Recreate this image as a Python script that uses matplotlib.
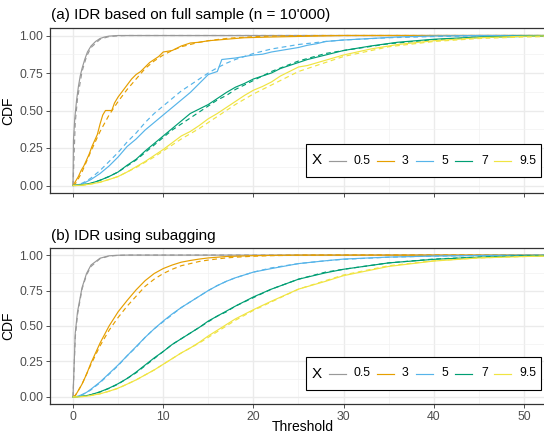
import matplotlib
matplotlib.use('Agg')
import matplotlib.pyplot as plt
from matplotlib.lines import Line2D
from matplotlib.patches import Rectangle

plt.rcParams['font.family'] = ['Liberation Sans', 'DejaVu Sans']

W, H = 544, 433

# ─── DATA ─────────────────────────────────────────────────────────────────────
X_LEVELS = ['0.5', '3', '5', '7', '9.5']
COLORS = ['#999999', '#E69F00', '#56B4E9', '#009E73', '#F0E442']

# true conditional CDFs (dashed), common threshold grid
T_TRUE = [0, 0.25, 0.5, 1, 1.5, 2, 3, 4, 5, 6, 7, 8, 9, 10, 11, 12, 13, 14, 15,
          16, 17, 18, 20, 22, 25, 28, 30, 35, 40, 45, 50, 55]
gray_true = [0, 0.42, 0.58, 0.76, 0.86, 0.92, 0.975, 0.993, 0.998] + [1] * 23
orange_true = [0, 0.01, 0.035, 0.09, 0.16, 0.23, 0.36, 0.47, 0.56, 0.64, 0.71,
               0.78, 0.83, 0.87, 0.90, 0.925, 0.94, 0.955, 0.965, 0.973, 0.98,
               0.985, 0.992, 0.996, 0.999, 1, 1, 1, 1, 1, 1, 1]
blue_true = [0, 0.001, 0.004, 0.015, 0.03, 0.05, 0.10, 0.16, 0.22, 0.29, 0.35,
             0.42, 0.48, 0.53, 0.58, 0.63, 0.67, 0.71, 0.75, 0.785, 0.815,
             0.84, 0.88, 0.91, 0.94, 0.96, 0.97, 0.985, 0.993, 0.997, 0.999, 1]
green_true = [0, 0, 0.001, 0.004, 0.009, 0.015, 0.035, 0.06, 0.09, 0.13, 0.17,
              0.22, 0.27, 0.32, 0.37, 0.41, 0.45, 0.49, 0.53, 0.57, 0.60,
              0.64, 0.70, 0.76, 0.83, 0.88, 0.90, 0.945, 0.972, 0.986, 0.994, 0.998]
yellow_true = [0, 0, 0, 0.002, 0.005, 0.01, 0.022, 0.04, 0.06, 0.09, 0.12,
               0.155, 0.19, 0.23, 0.27, 0.31, 0.345, 0.38, 0.42, 0.46, 0.50,
               0.54, 0.61, 0.67, 0.76, 0.82, 0.86, 0.925, 0.96, 0.98, 0.99, 0.996]

# (a) IDR on full sample (solid, jagged estimates)
gray_a_t = [0, 0.05, 0.2, 0.4, 0.6, 0.8, 1.0, 1.3, 1.6, 2.0, 2.5, 3.0, 3.5, 4.0, 5.0, 55]
gray_a = [0, 0.3, 0.45, 0.57, 0.66, 0.73, 0.78, 0.84, 0.89, 0.93, 0.96, 0.98, 0.99, 0.996, 1, 1]
orange_a_t = [0, 0.3, 0.6, 0.9, 1.2, 1.5, 1.8, 2.1, 2.4, 2.7, 3.0, 3.3, 3.6, 4.3, 4.6,
              5.0, 5.5, 6.0, 6.5, 7.0, 7.5, 8.0, 8.5, 9.0, 9.5, 10, 11, 12, 13, 14,
              15, 17, 19, 22, 26, 30, 55]
orange_a = [0, 0.03, 0.06, 0.10, 0.13, 0.17, 0.21, 0.26, 0.30, 0.34, 0.41, 0.47, 0.50,
            0.50, 0.55, 0.59, 0.63, 0.67, 0.71, 0.74, 0.76, 0.79, 0.82, 0.84, 0.86,
            0.89, 0.90, 0.93, 0.95, 0.955, 0.965, 0.975, 0.985, 0.99, 0.995, 1, 1]
blue_a_t = [0, 1, 2, 3, 4, 5, 6, 7, 8, 9, 10, 11, 12, 13, 14, 15, 16, 16.5, 18, 19, 20,
            21, 22, 23, 24, 25, 26, 27, 28, 30, 33, 36, 40, 45, 55]
blue_a = [0, 0.01, 0.04, 0.08, 0.13, 0.19, 0.26, 0.31, 0.37, 0.42, 0.47, 0.52, 0.57,
          0.62, 0.68, 0.74, 0.76, 0.84, 0.85, 0.86, 0.87, 0.875, 0.89, 0.90, 0.91,
          0.92, 0.935, 0.945, 0.96, 0.97, 0.98, 0.99, 0.997, 1, 1]
green_a_t = [0, 1, 2, 3, 4, 5, 6, 7, 8, 9, 10, 11, 12, 13, 14, 15, 16, 17, 18, 19, 20,
             21, 22, 23, 24, 25, 26, 28, 30, 33, 36, 40, 45, 50, 55]
green_a = [0, 0.005, 0.015, 0.035, 0.06, 0.09, 0.135, 0.175, 0.23, 0.28, 0.33, 0.38,
           0.43, 0.48, 0.51, 0.54, 0.58, 0.62, 0.655, 0.68, 0.71, 0.73, 0.75, 0.78,
           0.80, 0.82, 0.84, 0.87, 0.90, 0.93, 0.955, 0.975, 0.99, 0.997, 1]
yellow_a_t = [0, 1, 2, 3, 4, 5, 6, 7, 8, 9, 10, 11, 12, 13, 14, 15, 16, 17, 18, 19, 20,
              21, 22, 23, 24, 25, 26, 28, 30, 33, 36, 40, 45, 50, 55]
yellow_a = [0, 0.002, 0.01, 0.022, 0.04, 0.06, 0.09, 0.125, 0.16, 0.20, 0.24, 0.285,
            0.33, 0.36, 0.40, 0.445, 0.48, 0.52, 0.56, 0.60, 0.635, 0.66, 0.69, 0.73,
            0.76, 0.79, 0.80, 0.835, 0.87, 0.91, 0.94, 0.965, 0.985, 0.995, 1]

# (b) IDR with subagging (solid), same grid as the true CDFs
gray_b = [0, 0.45, 0.6, 0.77, 0.87, 0.93, 0.978, 0.995, 0.999] + [1] * 23
orange_b = [0, 0.01, 0.035, 0.09, 0.16, 0.24, 0.38, 0.50, 0.60, 0.68, 0.755,
            0.82, 0.87, 0.905, 0.93, 0.95, 0.962, 0.972, 0.98, 0.985, 0.99,
            0.992, 0.996, 0.998, 1, 1, 1, 1, 1, 1, 1, 1]
blue_b = [0, 0.001, 0.004, 0.016, 0.032, 0.055, 0.105, 0.165, 0.225, 0.29, 0.355,
          0.42, 0.48, 0.535, 0.585, 0.63, 0.67, 0.71, 0.75, 0.785, 0.815,
          0.84, 0.88, 0.905, 0.94, 0.96, 0.972, 0.986, 0.993, 0.997, 0.999, 1]
green_b = [0, 0, 0.001, 0.004, 0.009, 0.016, 0.036, 0.062, 0.093, 0.13, 0.175,
           0.225, 0.275, 0.32, 0.37, 0.41, 0.45, 0.49, 0.535, 0.57, 0.605,
           0.64, 0.705, 0.76, 0.83, 0.875, 0.90, 0.945, 0.97, 0.985, 0.994, 0.998]
yellow_b = [0, 0, 0, 0.002, 0.005, 0.01, 0.022, 0.04, 0.062, 0.09, 0.12,
            0.155, 0.19, 0.23, 0.27, 0.31, 0.345, 0.385, 0.43, 0.47, 0.51,
            0.55, 0.615, 0.675, 0.76, 0.815, 0.855, 0.92, 0.958, 0.98, 0.99, 0.996]

TRUE = [gray_true, orange_true, blue_true, green_true, yellow_true]
EST_A = [(gray_a_t, gray_a), (orange_a_t, orange_a), (blue_a_t, blue_a),
         (green_a_t, green_a), (yellow_a_t, yellow_a)]
EST_B = [gray_b, orange_b, blue_b, green_b, yellow_b]

LW = 0.85


def fx(px):
    return px / W


def fy(py):
    return 1 - py / H


def style_axes(ax, ylim):
    ax.set_xlim(-2.55, 53.55)
    ax.set_ylim(*ylim)
    ax.set_xticks([0, 10, 20, 30, 40, 50])
    ax.set_xticks([5, 15, 25, 35, 45], minor=True)
    ax.set_yticks([0, 0.25, 0.5, 0.75, 1.0])
    ax.set_yticks([0.125, 0.375, 0.625, 0.875], minor=True)
    ax.set_yticklabels(['0.00', '0.25', '0.50', '0.75', '1.00'])
    ax.grid(which='major', color='#EBEBEB', lw=1.0)
    ax.grid(which='minor', color='#F2F2F2', lw=0.5)
    ax.set_axisbelow(True)
    for s in ax.spines.values():
        s.set_color('#333333')
        s.set_linewidth(0.9)
    ax.tick_params(which='major', length=2.75, width=0.6, color='#333333',
                   labelsize=8.8, labelcolor='#4D4D4D', pad=2.2)
    ax.tick_params(which='minor', length=0)
    ax.set_ylabel('CDF', fontsize=10, labelpad=3)


def draw_key(fig, top, bottom):
    fig.add_artist(Rectangle((fx(306), fy(bottom)), fx(541) - fx(306),
                             fy(top) - fy(bottom), transform=fig.transFigure,
                             facecolor='white', edgecolor='black', lw=0.8, zorder=5))
    yc = fy((top + bottom) / 2)
    fig.text(fx(316.5), yc, 'X', fontsize=11, ha='center', va='center', zorder=6)
    line_x = [329, 377, 416, 455, 494]
    text_x = [353, 402, 441, 481, 519]
    for lx, tx, lab, col in zip(line_x, text_x, X_LEVELS, COLORS):
        fig.add_artist(Line2D([fx(lx), fx(lx + 17)], [yc, yc], color=col, lw=LW,
                              transform=fig.transFigure, zorder=6))
        fig.text(fx(tx), yc, lab, fontsize=8.8, ha='left', va='center', zorder=6)


fig = plt.figure(figsize=(W / 100, H / 100), dpi=100)
ax_a = fig.add_axes([fx(50), fy(193), fx(556) - fx(50), fy(28) - fy(193)])
ax_b = fig.add_axes([fx(50), fy(404), fx(556) - fx(50), fy(248) - fy(404)])

# panel (a)
for (t, f), ftrue, col in zip(EST_A, TRUE, COLORS):
    ax_a.plot(t, f, color=col, lw=LW)
    ax_a.plot(T_TRUE, ftrue, color=col, lw=LW, dashes=(4, 3))
style_axes(ax_a, (-0.05, 1.05))
ax_a.tick_params(axis='x', labelbottom=False)

# panel (b)
for fb, ftrue, col in zip(EST_B, TRUE, COLORS):
    ax_b.plot(T_TRUE, fb, color=col, lw=LW)
    ax_b.plot(T_TRUE, ftrue, color=col, lw=LW, dashes=(4, 3))
style_axes(ax_b, (-0.05, 1.05))
ax_b.set_xlabel('Threshold', fontsize=10, labelpad=-2)

fig.text(fx(51), fy(15), "(a) IDR based on full sample (n = 10'000)",
         fontsize=11, ha='left', va='center')
fig.text(fx(51), fy(236), '(b) IDR using subagging',
         fontsize=11, ha='left', va='center')

draw_key(fig, 144, 177)
draw_key(fig, 357, 390)

fig.savefig('out.png', dpi=100)
